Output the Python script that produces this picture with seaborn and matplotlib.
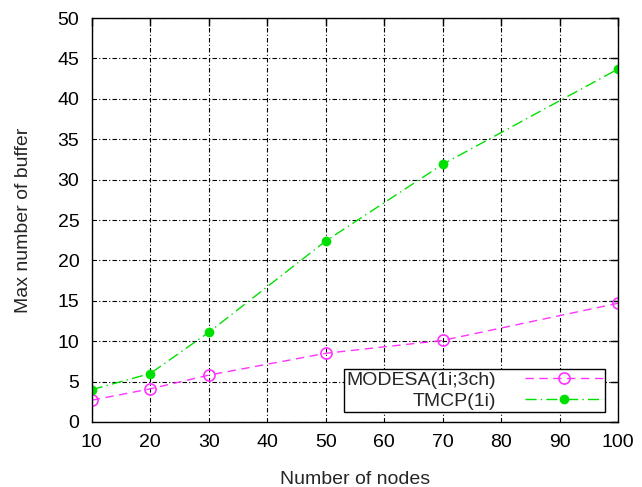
import matplotlib
matplotlib.use("Agg")
import matplotlib.pyplot as plt
import pandas as pd
import seaborn as sns

nodes = [10, 20, 30, 50, 70, 100]
modesa = [2.7, 4.1, 5.8, 8.5, 10.1, 14.7]
tmcp = [4.0, 6.0, 11.1, 22.4, 31.9, 43.7]
labels = ["MODESA(1i;3ch)", "TMCP(1i)"]

sns.set_theme(style="white")
plt.rcParams["font.family"] = ["Liberation Sans", "DejaVu Sans"]

df = pd.concat([
    pd.DataFrame({"nodes": nodes, "buffer": modesa, "series": labels[0]}),
    pd.DataFrame({"nodes": nodes, "buffer": tmcp, "series": labels[1]}),
])

fig = plt.figure(figsize=(6.42, 4.87), dpi=100)
ax = fig.add_axes([0.143, 0.1335, 0.82, 0.8295])

sns.lineplot(data=df[df.series == labels[0]], x="nodes", y="buffer", ax=ax,
             color="#ff33ff", linestyle=(0, (6, 4)), linewidth=1.0,
             marker="o", markersize=8, markerfacecolor="none",
             markeredgecolor="#ff33ff", markeredgewidth=1.2, label=labels[0])
sns.lineplot(data=df[df.series == labels[1]], x="nodes", y="buffer", ax=ax,
             color="#00e000", linestyle=(0, (8, 3, 1, 3)), linewidth=1.0,
             marker="o", markersize=7, markeredgewidth=0, label=labels[1])

ax.set_xlim(10, 100)
ax.set_ylim(0, 50)
ax.set_xticks(range(10, 101, 10))
ax.set_yticks(range(0, 51, 5))
ax.grid(True, color="black", linestyle=(0, (4, 2, 1, 2)), linewidth=0.8)
for s in ax.spines.values():
    s.set_color("black")
    s.set_linewidth(1.0)
ax.tick_params(direction="in", length=6, width=1, top=True, right=True,
               labelsize=14, pad=9, colors="black")
ax.set_xlabel("Number of nodes", fontsize=14, labelpad=14)
ax.set_ylabel("Max number of buffer", fontsize=14, labelpad=18)

leg = ax.legend(loc="lower right", bbox_to_anchor=(0.985, 0.01), fontsize=14,
                markerfirst=False, handlelength=4.0, fancybox=False,
                framealpha=1, edgecolor="black", borderpad=0.1,
                labelspacing=0.2, handletextpad=1.5, borderaxespad=0.3)
leg.get_frame().set_linewidth(1.0)

fig.savefig("out.png", dpi=100)
